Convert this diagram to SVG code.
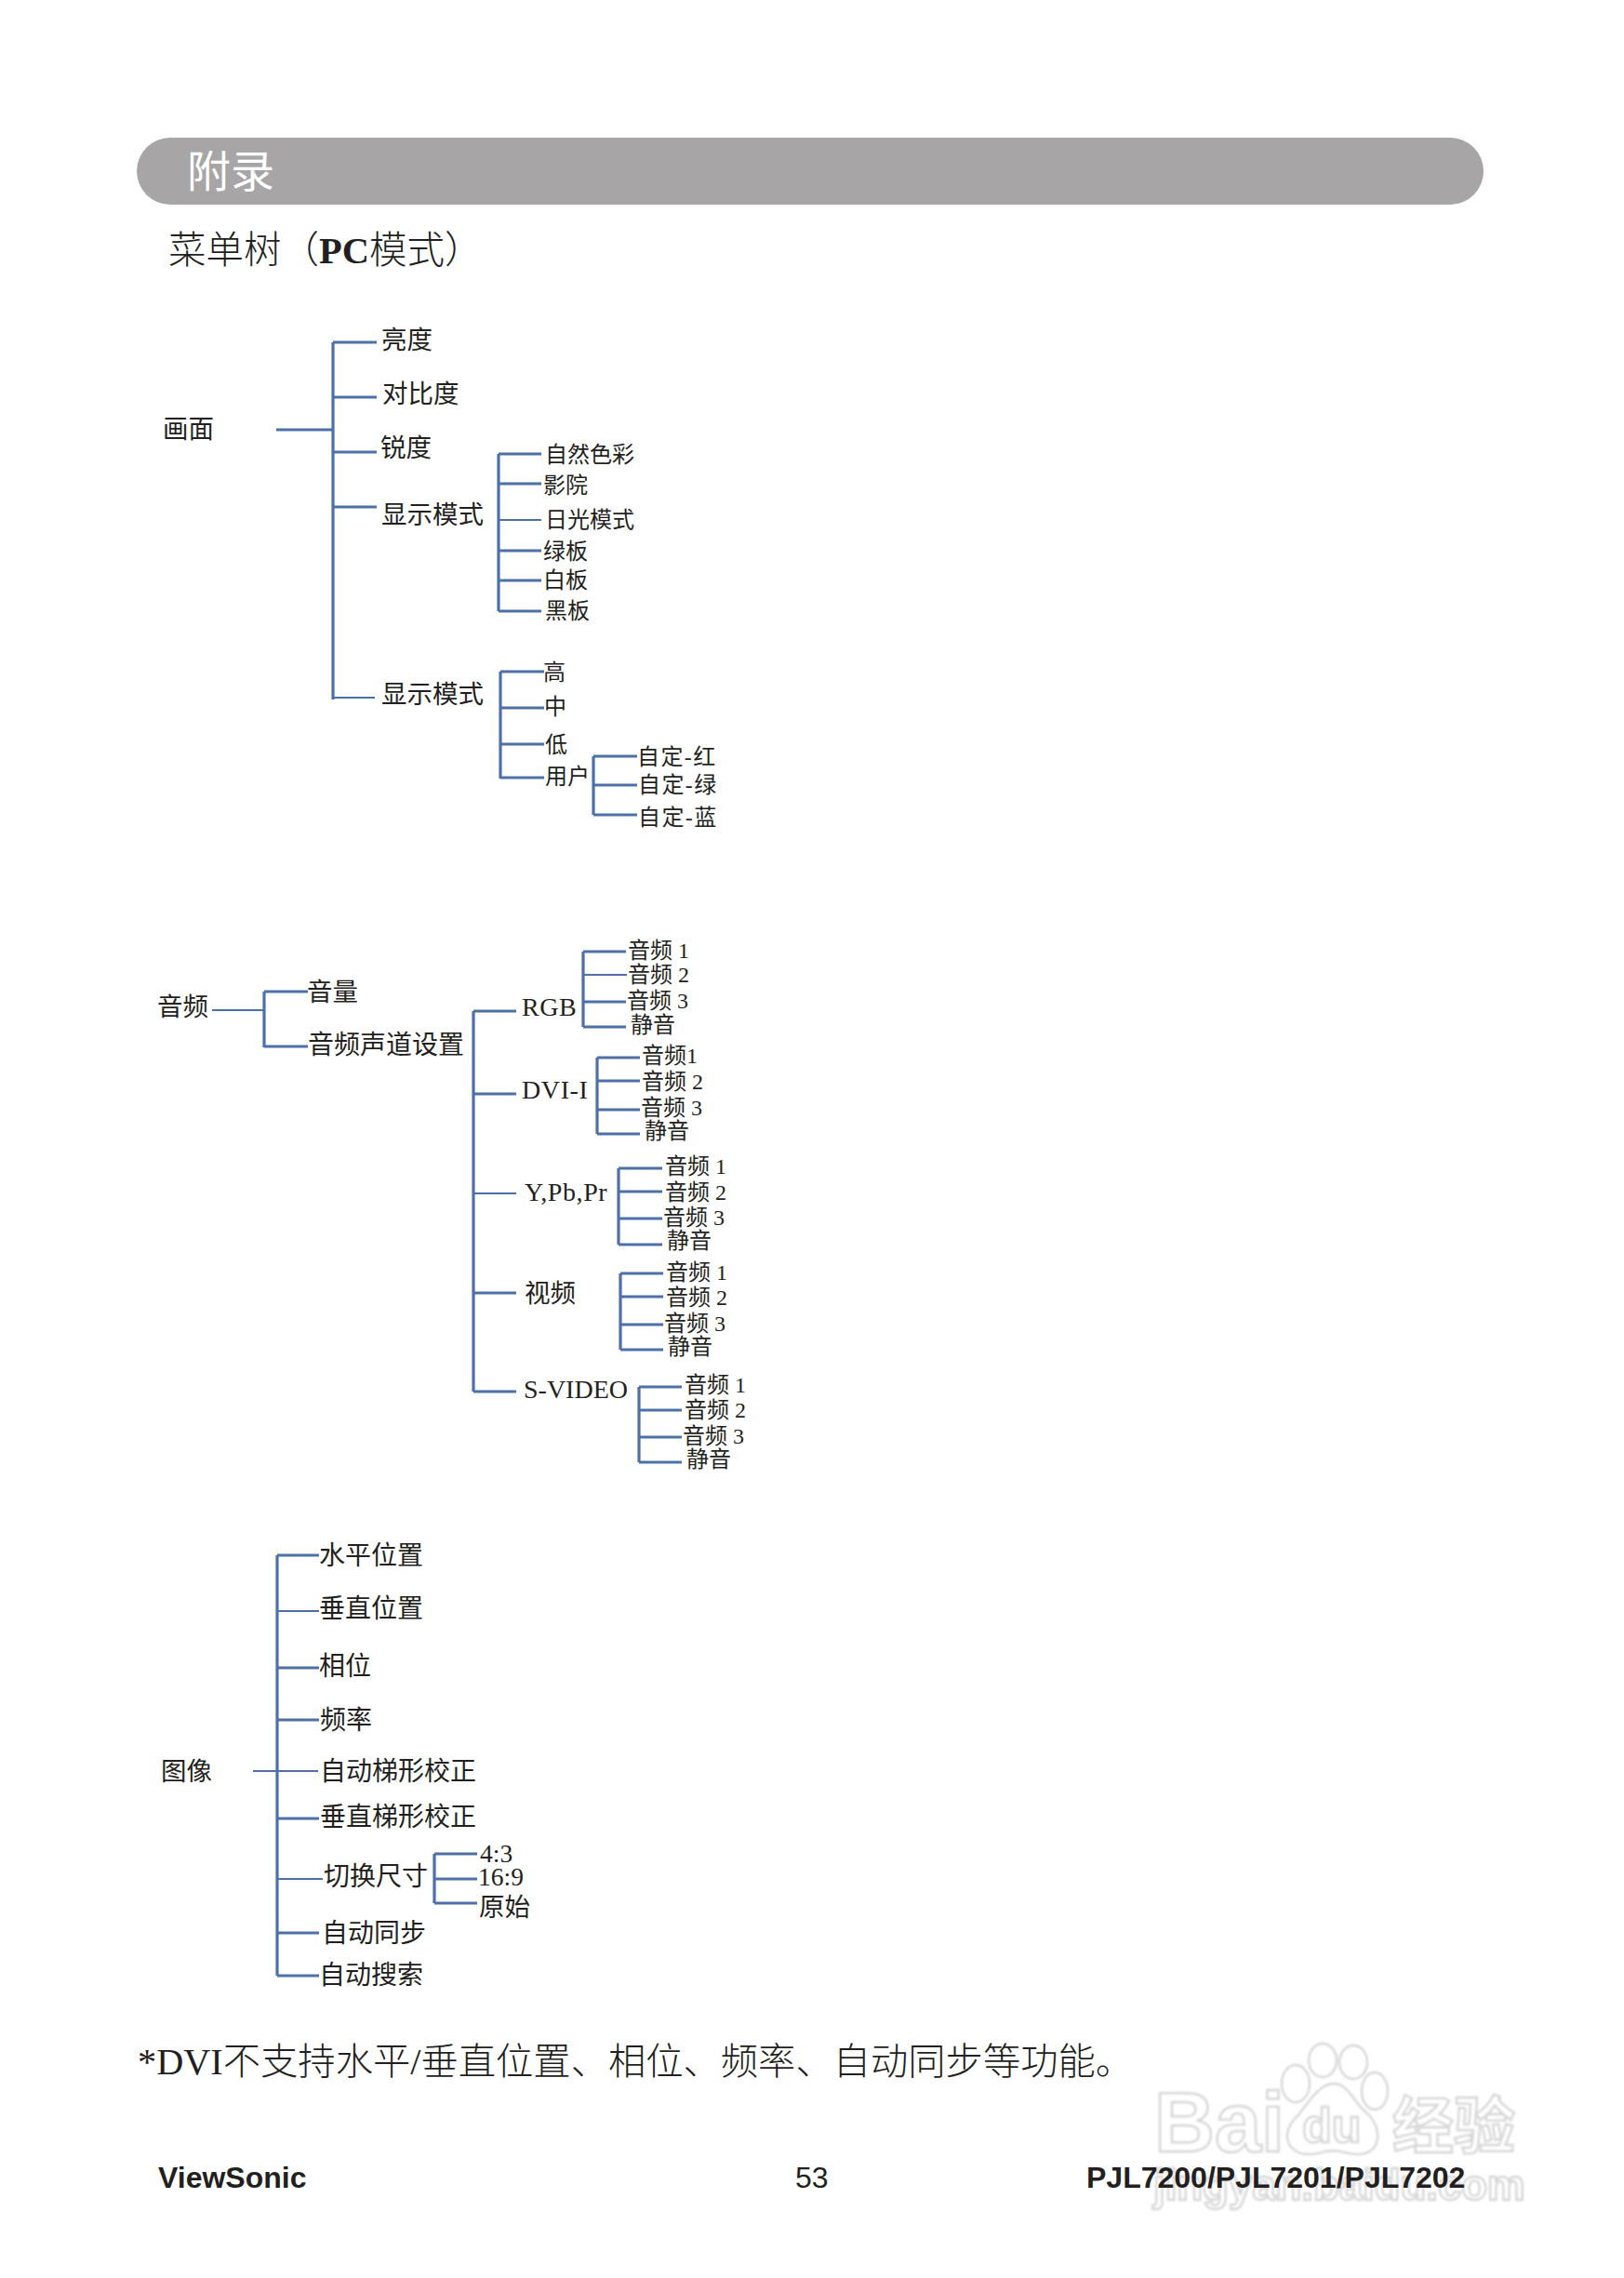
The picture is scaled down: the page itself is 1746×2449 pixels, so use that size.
<svg xmlns="http://www.w3.org/2000/svg" width="1746" height="2449" viewBox="0 0 1746 2449">
<style>
text{font-family:"Liberation Serif","Noto Sans CJK SC",serif;fill:#231f20}
.h{font-size:47px;fill:#fff}
.a{font-size:27.5px}
.b{font-size:24px}
.d{font-size:24px;letter-spacing:1.4px}
.c{font-size:28px}
.l{font-size:28px;letter-spacing:.6px}
.s{font-size:40.5px;font-weight:300}
.f{font-family:"Liberation Sans",sans-serif;font-size:32px;font-weight:700}
.n{font-weight:400}
.w{font-family:"Liberation Sans","Noto Sans CJK SC",sans-serif;font-weight:700;fill:#fff;stroke:#d6d6d6;stroke-width:2.4}
#connectors path{fill:none;stroke:#4e70a8;stroke-width:3.2}
#connectors path.t{stroke-width:2}
</style>
<defs><filter id="soft"><feGaussianBlur stdDeviation="0.8"/></filter></defs>
<rect width="1746" height="2449" fill="#fff"/>
<g id="banner"><rect x="147" y="148" width="1448" height="72" rx="36" ry="36" fill="#a7a5a6"/><text class="h" x="201" y="201">附录</text></g>
<g id="title"><text class="s" x="181" y="283">菜单树（<tspan font-weight="700">PC</tspan>模式）</text></g>
<g id="watermark" filter="url(#soft)">
<g fill="#fff" stroke="#d6d6d6" stroke-width="2.4">
<ellipse cx="1422" cy="2215" rx="15" ry="18"/><ellipse cx="1455" cy="2217" rx="15" ry="18"/><ellipse cx="1393" cy="2240" rx="15" ry="20"/><ellipse cx="1478" cy="2248" rx="14" ry="20"/>
<path d="M1434 2240C1450 2240 1456 2262 1470 2272C1488 2290 1484 2316 1460 2316C1448 2316 1442 2312 1434 2312C1424 2312 1418 2316 1406 2316C1386 2316 1376 2296 1392 2278C1404 2266 1416 2240 1434 2240Z"/>
</g>
<text class="w" x="1241" y="2313" font-size="90">Bai</text>
<text class="w" x="1400" y="2303" font-size="52">du</text>
<text class="w" x="1497" y="2309" font-size="66">经验</text>
<text class="w" x="1240" y="2365" font-size="45.5">jingyan.baidu.com</text>
</g>
<g id="connectors">
<path d="M358 368V752M358 368H405M358 427H405M297 462H358M358 486H405M358 545H405"/><path class="t" d="M358 750H403"/>
<path d="M536 488V657M536 488H582M536 520H582M536 592H582M536 624H582M536 657H582"/><path class="t" d="M536 559H582"/>
<path d="M538 722V837M538 722H585M538 761H585M538 800H585M538 836H585"/>
<path d="M638 813V876M638 813H685M638 844H685M638 876H685"/>
<path class="t" d="M228 1086H284"/>
<path d="M284 1066V1126M284 1066H331M284 1125H331"/>
<path d="M509 1087V1496M509 1087H555M509 1176H555M509 1390H555M509 1496H555"/><path class="t" d="M509 1283H555"/>
<path d="M627 1023V1104M627 1023H673M627 1077H673M627 1104H673"/><path class="t" d="M627 1048H674"/>
<path d="M642 1137V1219M642 1137H688M642 1162H688M642 1193H688M642 1219H688"/>
<path d="M665 1256V1338M665 1256H712M665 1281H712M665 1310H712M665 1338H712"/>
<path d="M667 1369V1451M667 1369H713M667 1394H713M667 1424H713M667 1451H713"/>
<path d="M687 1491V1572M687 1491H733M687 1516H733M687 1545H733M687 1572H733"/>
<path d="M298 1672V2124M298 1672H343M298 1793H343M298 1849H343M298 1955H343M298 2078H343M298 2124H343"/><path class="t" d="M298 1732H343M272 1904H342M298 2020H347"/>
<path d="M467 1993V2046M467 1993H513M467 2020H513M467 2046H513"/>
</g>
<g id="menu-picture" transform="translate(-1 0)">
<text class="a" x="176" y="471">画面</text>
<g id="n-brightness"><text class="a" x="411" y="375">亮度</text></g>
<g id="n-contrast"><text class="a" x="412" y="433">对比度</text></g>
<g id="n-sharpness"><text class="a" x="410" y="491">锐度</text></g>
<g id="n-display1"><text class="a" x="411" y="563">显示模式</text></g>
<g id="n-display2"><text class="a" x="411" y="756">显示模式</text></g>
<g id="n-d1"><text class="b" x="587" y="497">自然色彩</text></g>
<g id="n-d2"><text class="b" x="585" y="530">影院</text></g>
<g id="n-d3"><text class="b" x="587" y="567">日光模式</text></g>
<g id="n-d4"><text class="b" x="585" y="601">绿板</text></g>
<g id="n-d5"><text class="b" x="585" y="632">白板</text></g>
<g id="n-d6"><text class="b" x="587" y="665">黑板</text></g>
<g id="n-e1"><text class="b" x="585" y="731">高</text></g>
<g id="n-e2"><text class="b" x="586" y="768">中</text></g>
<g id="n-e3"><text class="b" x="587" y="809">低</text></g>
<g id="n-e4"><text class="b" x="587" y="843">用户</text></g>
<g id="n-u1"><text class="d" x="686" y="822">自定-红</text></g>
<g id="n-u2"><text class="d" x="687" y="852">自定-绿</text></g>
<g id="n-u3"><text class="d" x="687" y="887">自定-蓝</text></g>
</g>
<g id="menu-audio" transform="translate(-1 0)">
<text class="a" x="170" y="1092">音频</text>
<g id="n-volume"><text class="a" x="331" y="1076">音量</text></g>
<g id="n-channel"><text class="c" x="332" y="1133">音频声道设置</text></g>
<g id="n-rgb"><text class="l" x="562" y="1092">RGB</text></g>
<g id="n-dvi"><text class="l" x="562" y="1181">DVI-I</text></g>
<g id="n-ypbpr"><text class="l" x="565" y="1291">Y,Pb,Pr</text></g>
<g id="n-video"><text class="a" x="565" y="1400">视频</text></g>
<g id="n-svideo"><text class="c" x="564" y="1503">S-VIDEO</text></g>
<g id="n-rgb-a"><text class="b" x="676" y="1030">音频 1</text><text class="b" x="676" y="1056">音频 2</text><text class="b" x="675" y="1084">音频 3</text><text class="b" x="679" y="1110">静音</text></g>
<g id="n-dvi-a"><text class="b" x="691" y="1143">音频1</text><text class="b" x="691" y="1171">音频 2</text><text class="b" x="690" y="1199">音频 3</text><text class="b" x="694" y="1224">静音</text></g>
<g id="n-ypbpr-a"><text class="b" x="716" y="1262">音频 1</text><text class="b" x="716" y="1290">音频 2</text><text class="b" x="714" y="1317">音频 3</text><text class="b" x="718" y="1342">静音</text></g>
<g id="n-video-a"><text class="b" x="717" y="1376">音频 1</text><text class="b" x="717" y="1403">音频 2</text><text class="b" x="715" y="1431">音频 3</text><text class="b" x="719" y="1456">静音</text></g>
<g id="n-svideo-a"><text class="b" x="737" y="1497">音频 1</text><text class="b" x="737" y="1524">音频 2</text><text class="b" x="735" y="1552">音频 3</text><text class="b" x="739" y="1577">静音</text></g>
</g>
<g id="menu-image" transform="translate(-1 0)">
<text class="a" x="174" y="1914">图像</text>
<g id="n-h"><text class="c" x="344" y="1682">水平位置</text></g>
<g id="n-v"><text class="c" x="344" y="1739">垂直位置</text></g>
<g id="n-phase"><text class="c" x="344" y="1801">相位</text></g>
<g id="n-freq"><text class="c" x="345" y="1859">频率</text></g>
<g id="n-auto"><text class="c" x="345" y="1914">自动梯形校正</text></g>
<g id="n-keystone"><text class="c" x="345" y="1963">垂直梯形校正</text></g>
<g id="n-size"><text class="c" x="349" y="2027">切换尺寸</text></g>
<g id="n-s1"><text class="a" x="517" y="2002">4:3</text></g>
<g id="n-s2"><text class="a" x="515" y="2027">16:9</text></g>
<g id="n-s3"><text class="a" x="516" y="2060">原始</text></g>
<g id="n-sync"><text class="c" x="347" y="2088">自动同步</text></g>
<g id="n-search"><text class="c" x="344" y="2133">自动搜索</text></g>
</g>
<g id="note"><text x="148" y="2230" font-size="40.3" font-weight="300">*DVI不支持水平/垂直位置、相位、频率、自动同步等功能。</text></g>
<g id="footer">
<text class="f" x="170" y="2352">ViewSonic</text>
<text class="f n" x="855" y="2352">53</text>
<text class="f" x="1168" y="2352">PJL7200/PJL7201/PJL7202</text>
</g>
</svg>
